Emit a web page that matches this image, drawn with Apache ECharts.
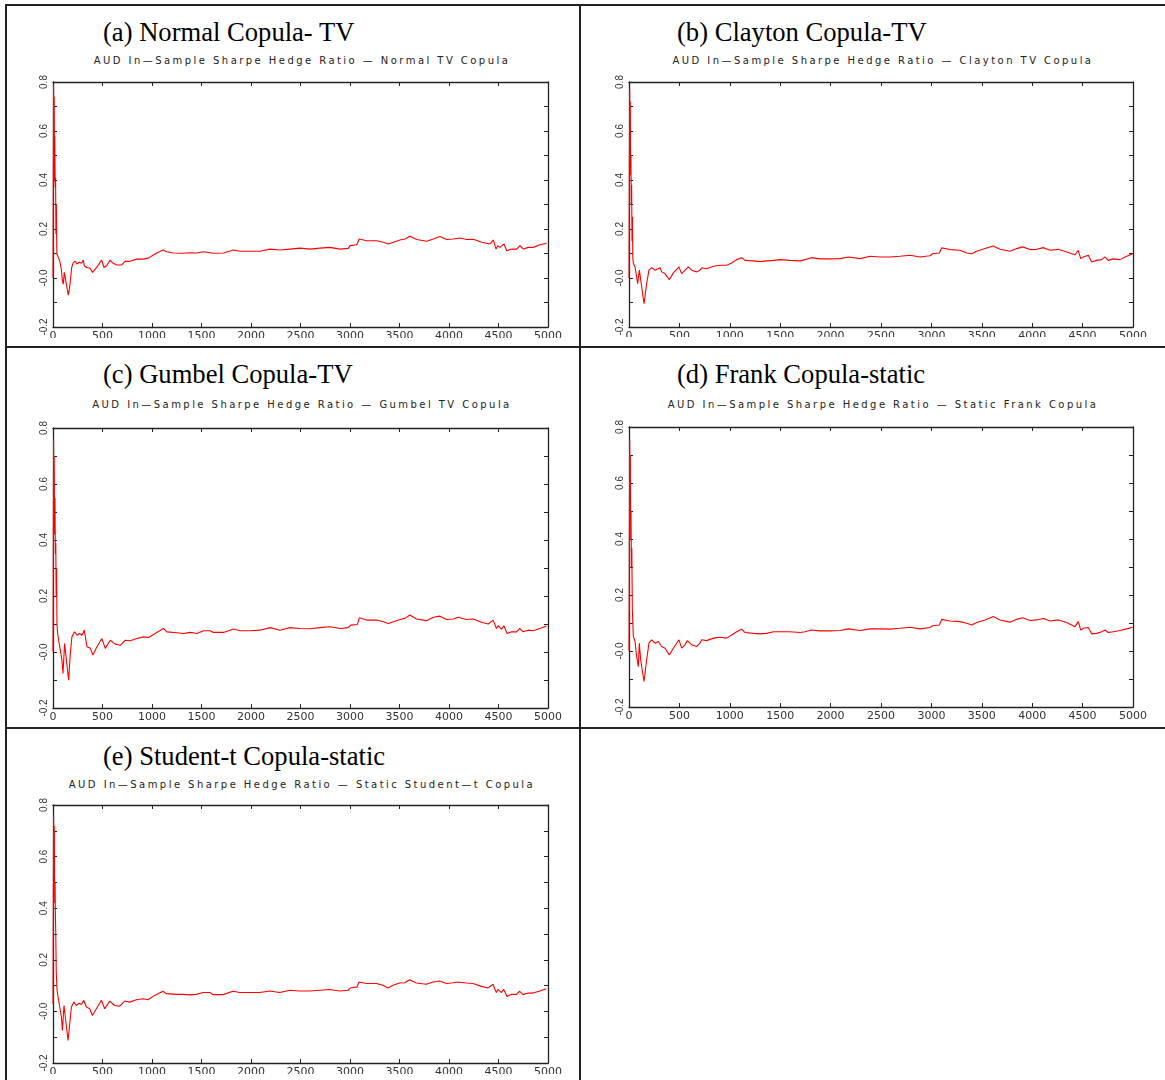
<!DOCTYPE html>
<html>
<head>
<meta charset="utf-8">
<script src="https://cdn.jsdelivr.net/npm/echarts@6/dist/echarts.min.js"></script>
<style>
  html, body { margin: 0; padding: 0; background: #fff; }
  body { position: relative; width: 1165px; height: 1080px; overflow: hidden; }
  .rule { position: absolute; background: #222; }
  .caption { position: absolute; font-family: "Liberation Serif", "Times New Roman", serif; font-size: 26.6px; line-height: 30px; color: #000; white-space: nowrap; }
  .subtitle { position: absolute; width: 600px; text-align: center; font-family: "DejaVu Sans", sans-serif; font-size: 10px; line-height: 12px; letter-spacing: 2.45px; color: #222; white-space: nowrap; }
  .plot { position: absolute; overflow: hidden; }
</style>
</head>
<body>

<!-- table rules -->
<div class="rule" style="left:5px;top:4px;width:1160px;height:2px"></div>
<div class="rule" style="left:5px;top:4px;width:2px;height:1076px"></div>
<div class="rule" style="left:579px;top:4px;width:2px;height:1076px"></div>
<div class="rule" style="left:5px;top:346px;width:1160px;height:2px"></div>
<div class="rule" style="left:5px;top:727px;width:1160px;height:2px"></div>

<!-- captions and chart headings -->
<div class="caption" style="left:103px;top:17px">(a) Normal Copula- TV</div>
<div class="caption" style="left:677px;top:17px">(b) Clayton Copula-TV</div>
<div class="caption" style="left:103px;top:359px">(c) Gumbel Copula-TV</div>
<div class="caption" style="left:677px;top:359px">(d) Frank Copula-static</div>
<div class="caption" style="left:103px;top:741px">(e) Student-t Copula-static</div>

<div class="subtitle" style="left:2px;top:55px">AUD In—Sample Sharpe Hedge Ratio — Normal TV Copula</div>
<div class="subtitle" style="left:583px;top:55px">AUD In—Sample Sharpe Hedge Ratio — Clayton TV Copula</div>
<div class="subtitle" style="left:2px;top:399px">AUD In—Sample Sharpe Hedge Ratio — Gumbel TV Copula</div>
<div class="subtitle" style="left:583px;top:399px">AUD In—Sample Sharpe Hedge Ratio — Static Frank Copula</div>
<div class="subtitle" style="left:2px;top:779px">AUD In—Sample Sharpe Hedge Ratio — Static Student—t Copula</div>

<!-- plot areas -->
<div id="pa" class="plot" style="left:8px;top:66px;width:570px;height:272px"></div>
<div id="pb" class="plot" style="left:583px;top:66px;width:580px;height:271px"></div>
<div id="pc" class="plot" style="left:8px;top:415px;width:570px;height:312px"></div>
<div id="pd" class="plot" style="left:583px;top:415px;width:580px;height:304px"></div>
<div id="pe" class="plot" style="left:8px;top:793px;width:570px;height:281px"></div>

<script>
// Axis ticks
const yTickValues = [-0.2, 0, 0.2, 0.4, 0.6, 0.8];
const yTickLabels = ["-0.2", "-0.0", "0.2", "0.4", "0.6", "0.8"];
const xTickStep = 500;

// (a) Normal TV copula hedge ratio
const normalX = [0, 3, 6, 9, 12, 15, 18, 22, 26, 30, 34, 38, 40, 50, 67, 84, 95, 104, 114, 155, 172, 189, 206, 229, 239, 266, 290, 306, 316, 340, 374, 400, 441, 491, 515, 542, 576, 609, 643, 693, 727, 778, 845, 912, 963, 1013, 1064, 1114, 1148, 1215, 1316, 1384, 1451, 1518, 1552, 1620, 1721, 1822, 1889, 1990, 2091, 2192, 2293, 2394, 2495, 2596, 2697, 2798, 2899, 2983, 3000, 3067, 3094, 3168, 3269, 3337, 3387, 3438, 3505, 3556, 3606, 3674, 3775, 3842, 3909, 3977, 4044, 4111, 4179, 4246, 4330, 4414, 4448, 4475, 4492, 4515, 4556, 4583, 4633, 4684, 4717, 4751, 4801, 4852, 4919, 4987];
const normalY = [0.00, 0.45, 0.79, 0.52, 0.74, 0.40, 0.58, 0.37, 0.41, 0.18, 0.30, 0.12, 0.098, 0.091, 0.071, 0.036, -0.011, -0.025, 0.023, -0.070, -0.025, 0.043, 0.064, 0.068, 0.057, 0.064, 0.060, 0.073, 0.050, 0.043, 0.040, 0.023, 0.043, 0.073, 0.043, 0.050, 0.073, 0.060, 0.053, 0.053, 0.068, 0.068, 0.077, 0.077, 0.081, 0.094, 0.105, 0.114, 0.107, 0.102, 0.101, 0.103, 0.102, 0.107, 0.105, 0.101, 0.102, 0.114, 0.109, 0.109, 0.109, 0.118, 0.114, 0.118, 0.122, 0.118, 0.122, 0.125, 0.118, 0.121, 0.132, 0.136, 0.159, 0.152, 0.152, 0.146, 0.139, 0.146, 0.155, 0.159, 0.170, 0.157, 0.150, 0.159, 0.169, 0.157, 0.159, 0.163, 0.157, 0.158, 0.146, 0.139, 0.155, 0.118, 0.132, 0.125, 0.139, 0.111, 0.118, 0.118, 0.132, 0.118, 0.125, 0.125, 0.136, 0.142];

// (b) Clayton TV copula hedge ratio
const claytonX = [0, 3, 7, 10, 13, 16, 19, 23, 26, 30, 34, 38, 43, 60, 76, 86, 103, 149, 175, 198, 225, 258, 274, 308, 324, 357, 374, 400, 440, 496, 522, 556, 589, 622, 671, 704, 721, 770, 837, 903, 969, 1018, 1068, 1118, 1151, 1233, 1300, 1366, 1432, 1498, 1597, 1697, 1746, 1812, 1895, 1994, 2093, 2176, 2292, 2391, 2490, 2589, 2688, 2788, 2887, 2986, 3012, 3079, 3102, 3184, 3284, 3350, 3400, 3449, 3532, 3614, 3680, 3780, 3846, 3905, 3978, 4044, 4110, 4177, 4259, 4342, 4424, 4457, 4481, 4507, 4557, 4590, 4640, 4689, 4722, 4755, 4805, 4871, 4937, 4997];
const claytonY = [0.00, 0.40, 0.77, 0.55, 0.72, 0.42, 0.50, 0.30, 0.38, 0.15, 0.25, 0.08, 0.059, 0.045, 0.004, -0.023, 0.032, -0.105, -0.023, 0.032, 0.042, 0.032, 0.038, 0.042, 0.025, 0.018, 0.025, -0.007, 0.021, 0.045, 0.018, 0.032, 0.045, 0.032, 0.025, 0.032, 0.042, 0.038, 0.048, 0.052, 0.052, 0.061, 0.075, 0.083, 0.072, 0.070, 0.067, 0.070, 0.072, 0.075, 0.072, 0.070, 0.075, 0.083, 0.078, 0.078, 0.079, 0.086, 0.079, 0.089, 0.086, 0.086, 0.089, 0.093, 0.086, 0.091, 0.099, 0.102, 0.123, 0.116, 0.113, 0.102, 0.099, 0.109, 0.120, 0.131, 0.117, 0.109, 0.120, 0.127, 0.116, 0.117, 0.124, 0.113, 0.117, 0.106, 0.095, 0.113, 0.079, 0.086, 0.093, 0.065, 0.072, 0.075, 0.086, 0.072, 0.078, 0.075, 0.089, 0.099];

// (c) Gumbel TV copula hedge ratio
const gumbelX = [0, 3, 6, 9, 12, 16, 20, 24, 28, 32, 36, 40, 47, 57, 74, 90, 101, 117, 158, 175, 191, 218, 242, 269, 292, 316, 343, 377, 403, 444, 494, 528, 578, 629, 679, 730, 780, 847, 914, 965, 1032, 1116, 1150, 1251, 1318, 1385, 1453, 1520, 1587, 1621, 1722, 1823, 1890, 1991, 2092, 2193, 2294, 2394, 2495, 2596, 2697, 2798, 2899, 2983, 3007, 3074, 3094, 3168, 3269, 3336, 3387, 3437, 3504, 3555, 3605, 3672, 3773, 3841, 3908, 3975, 4043, 4093, 4177, 4244, 4328, 4396, 4446, 4480, 4497, 4530, 4554, 4587, 4631, 4682, 4715, 4749, 4799, 4850, 4917, 4985];
const gumbelY = [0.00, 0.38, 0.76, 0.50, 0.70, 0.42, 0.55, 0.35, 0.39, 0.20, 0.30, 0.10, 0.066, 0.042, 0.007, -0.029, -0.077, 0.030, -0.101, -0.005, 0.054, 0.072, 0.060, 0.066, 0.060, 0.078, 0.019, 0.013, -0.011, 0.019, 0.048, 0.013, 0.042, 0.028, 0.024, 0.042, 0.040, 0.048, 0.054, 0.052, 0.066, 0.084, 0.072, 0.069, 0.066, 0.070, 0.066, 0.076, 0.076, 0.070, 0.070, 0.082, 0.076, 0.076, 0.078, 0.087, 0.078, 0.087, 0.084, 0.083, 0.087, 0.090, 0.084, 0.087, 0.096, 0.098, 0.122, 0.114, 0.114, 0.108, 0.102, 0.108, 0.116, 0.120, 0.132, 0.118, 0.112, 0.124, 0.128, 0.116, 0.118, 0.124, 0.116, 0.118, 0.106, 0.100, 0.114, 0.084, 0.094, 0.081, 0.094, 0.066, 0.072, 0.072, 0.084, 0.072, 0.078, 0.076, 0.084, 0.093];

// (d) Static Frank copula hedge ratio
const frankX = [0, 3, 7, 10, 13, 17, 20, 24, 28, 33, 38, 43, 60, 76, 93, 102, 116, 149, 175, 198, 225, 258, 291, 308, 324, 357, 400, 440, 496, 522, 556, 579, 622, 671, 704, 721, 770, 837, 903, 969, 1018, 1068, 1118, 1151, 1233, 1300, 1366, 1432, 1498, 1597, 1697, 1746, 1812, 1895, 1994, 2093, 2176, 2292, 2391, 2490, 2589, 2688, 2788, 2887, 2986, 3012, 3079, 3102, 3184, 3284, 3350, 3400, 3449, 3532, 3614, 3680, 3780, 3846, 3905, 3978, 4044, 4110, 4177, 4259, 4342, 4424, 4457, 4481, 4507, 4557, 4590, 4640, 4689, 4722, 4755, 4805, 4871, 4937, 4997];
const frankY = [0.00, 0.35, 0.755, 0.50, 0.70, 0.40, 0.50, 0.30, 0.367, 0.15, 0.10, 0.052, 0.034, -0.020, -0.056, 0.028, -0.032, -0.109, -0.032, 0.028, 0.040, 0.028, 0.034, 0.040, 0.016, 0.010, -0.014, 0.010, 0.040, 0.010, 0.022, 0.037, 0.022, 0.016, 0.028, 0.040, 0.037, 0.046, 0.049, 0.046, 0.057, 0.069, 0.078, 0.066, 0.063, 0.061, 0.063, 0.069, 0.069, 0.069, 0.066, 0.069, 0.075, 0.072, 0.072, 0.073, 0.079, 0.073, 0.079, 0.079, 0.078, 0.081, 0.085, 0.079, 0.084, 0.090, 0.093, 0.113, 0.107, 0.105, 0.099, 0.093, 0.102, 0.111, 0.123, 0.111, 0.103, 0.113, 0.119, 0.109, 0.111, 0.116, 0.107, 0.111, 0.102, 0.087, 0.105, 0.075, 0.081, 0.084, 0.061, 0.063, 0.069, 0.075, 0.066, 0.069, 0.073, 0.079, 0.085];

// (e) Static Student-t copula hedge ratio
const studentX = [0, 3, 6, 10, 13, 17, 21, 24, 28, 33, 41, 51, 68, 85, 95, 111, 152, 169, 186, 212, 236, 263, 287, 310, 337, 371, 398, 438, 489, 522, 573, 623, 674, 724, 775, 842, 909, 960, 1027, 1111, 1145, 1246, 1313, 1381, 1448, 1515, 1583, 1616, 1717, 1818, 1885, 1987, 2088, 2189, 2290, 2391, 2492, 2593, 2694, 2795, 2896, 2980, 3004, 3071, 3091, 3165, 3266, 3333, 3384, 3434, 3502, 3552, 3603, 3670, 3771, 3839, 3906, 3973, 4041, 4091, 4175, 4242, 4327, 4394, 4444, 4478, 4495, 4529, 4552, 4586, 4630, 4680, 4714, 4748, 4798, 4849, 4917, 4983];
const studentY = [0.03, 0.40, 0.76, 0.55, 0.72, 0.42, 0.50, 0.379, 0.30, 0.15, 0.082, 0.056, 0.017, -0.022, -0.074, 0.023, -0.113, -0.048, 0.017, 0.036, 0.023, 0.032, 0.027, 0.043, 0.017, 0.010, -0.016, 0.010, 0.043, 0.010, 0.040, 0.023, 0.020, 0.040, 0.036, 0.045, 0.049, 0.045, 0.062, 0.078, 0.069, 0.066, 0.066, 0.064, 0.066, 0.073, 0.073, 0.065, 0.065, 0.078, 0.073, 0.073, 0.073, 0.079, 0.073, 0.082, 0.079, 0.079, 0.082, 0.085, 0.079, 0.082, 0.091, 0.095, 0.114, 0.108, 0.108, 0.101, 0.091, 0.101, 0.110, 0.111, 0.123, 0.110, 0.105, 0.114, 0.118, 0.108, 0.111, 0.114, 0.110, 0.108, 0.097, 0.091, 0.105, 0.073, 0.085, 0.073, 0.086, 0.058, 0.066, 0.066, 0.078, 0.065, 0.071, 0.071, 0.079, 0.088];

const AXIS_COLOR = '#222';
const LINE_COLOR = '#ff0000';

function yLabel(v) {
  const i = yTickValues.findIndex(t => Math.abs(t - v) < 1e-6);
  return i >= 0 ? yTickLabels[i] : '';
}

function xLabel(v) {
  return String(Math.round(v));
}

function xAxisDef(position, showLabels) {
  return {
    type: 'value', position: position, min: 0, max: 5000, interval: xTickStep,
    axisLine: { show: true, onZero: false, lineStyle: { color: AXIS_COLOR, width: 1.3 } },
    axisTick: { show: true, inside: true, length: 4, lineStyle: { color: AXIS_COLOR } },
    axisLabel: { show: showLabels, margin: 4, fontSize: 11, fontFamily: 'DejaVu Sans', color: '#333', formatter: xLabel },
    splitLine: { show: false }
  };
}

function yAxisDef(position, showLabels) {
  return {
    type: 'value', position: position, min: -0.2, max: 0.8, interval: 0.2,
    axisLine: { show: true, onZero: false, lineStyle: { color: AXIS_COLOR, width: 1.3 } },
    axisTick: { show: true, inside: true, length: 4, lineStyle: { color: AXIS_COLOR } },
    minorTick: { show: true, splitNumber: 2, length: 4, lineStyle: { color: AXIS_COLOR } },
    axisLabel: { show: showLabels, rotate: 90, margin: 4, fontSize: 10, fontFamily: 'Liberation Sans', color: '#333', formatter: yLabel },
    splitLine: { show: false }, minorSplitLine: { show: false }
  };
}

function drawPanel(id, xs, ys, grid) {
  const chart = echarts.init(document.getElementById(id), null, { renderer: 'canvas' });
  chart.setOption({
    animation: false,
    grid: Object.assign({ containLabel: false, outerBoundsMode: 'none' }, grid),
    xAxis: [xAxisDef('bottom', true), xAxisDef('top', false)],
    yAxis: [yAxisDef('left', true), yAxisDef('right', false)],
    series: [{
      type: 'line', xAxisIndex: 0, yAxisIndex: 0,
      data: xs.map((x, i) => [x, ys[i]]),
      showSymbol: false, symbol: 'none',
      lineStyle: { color: LINE_COLOR, width: 1.1 }
    }]
  });
}

drawPanel('pa', normalX, normalY, { left: 45, right: 30, top: 16, bottom: 11 });
drawPanel('pb', claytonX, claytonY, { left: 46, right: 30, top: 16, bottom: 10 });
drawPanel('pc', gumbelX, gumbelY, { left: 45, right: 30, top: 13, bottom: 19 });
drawPanel('pd', frankX, frankY, { left: 46, right: 30, top: 12, bottom: 12 });
drawPanel('pe', studentX, studentY, { left: 45, right: 30, top: 12, bottom: 11 });
</script>
</body>
</html>
